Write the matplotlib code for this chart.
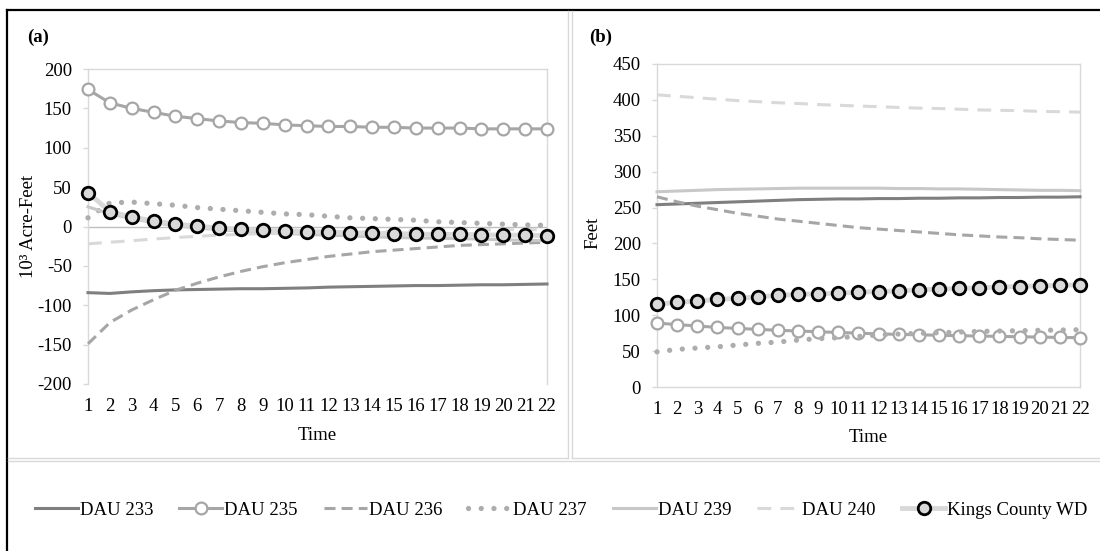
import matplotlib
matplotlib.use("Agg")
import matplotlib.pyplot as plt
from matplotlib.lines import Line2D

plt.rcParams['font.family'] = ['Liberation Serif', 'DejaVu Serif']
plt.rcParams['axes.unicode_minus'] = False

time = list(range(1, 23))
xticklabels = [str(t) for t in time]

# Panel (a): 10^3 Acre-Feet
a_dau233 = [-84, -85, -83, -81.5, -80.5, -80, -79.5, -79, -79, -78.5, -78, -77, -76.5, -76, -75.5, -75, -75, -74.5, -74, -74, -73.5, -73]
a_dau235 = [174, 157, 150, 145, 140, 137, 134, 132, 131, 129, 128, 127, 127, 126, 126, 125, 125, 125, 124, 124, 124, 124]
a_dau236 = [-149, -122, -106, -93, -81, -72, -64, -57, -51, -46, -42, -38, -35, -32, -30, -28, -26, -24, -23, -22, -21, -20]
a_dau237 = [11, 30, 31, 29, 27, 24, 22, 20, 18, 16, 15, 13, 11, 10, 9, 8, 6, 5, 4, 3, 2, 1.5]
a_dau239 = [25, 16, 10, 5, 1, -2, -4, -6, -7.5, -9, -10, -11, -12, -13, -14, -14.5, -15, -15.5, -16, -17, -17.5, -18]
a_dau240 = [-22, -20, -18, -16, -14, -12.5, -11, -10, -9, -8.5, -8, -7.5, -7, -6.5, -6, -5.5, -5, -5, -4.5, -4, -4, -4]
a_kcwd = [43, 19, 12, 7, 3, 0.5, -2, -3.5, -5, -5.5, -6.5, -7, -8, -8.5, -9, -9.5, -10, -10, -10.5, -11, -11, -11.5]

# Panel (b): Feet
b_dau233 = [254, 255, 256, 257, 258, 259, 260, 261, 261.5, 262, 262, 262.5, 262.5, 263, 263, 263.5, 263.5, 264, 264, 264.5, 264.5, 265]
b_dau235 = [89, 87, 85, 83, 81.6, 80.3, 79, 78, 77, 76, 75, 74, 73.3, 72.8, 72, 71.5, 71, 70.5, 70, 69.6, 69, 68.7]
b_dau236 = [265, 258, 252, 247, 242, 238, 234, 231, 228, 225, 222, 220, 218, 216, 214, 212, 210.5, 209, 208, 206.5, 205.5, 204.5]
b_dau237 = [49, 52.4, 54.3, 56, 58.5, 60.8, 62.6, 65.4, 67.3, 68.7, 70.5, 72.4, 73.8, 74.7, 75.6, 76.5, 77.5, 78, 78.4, 79, 79.3, 79.8]
b_dau239 = [272, 273, 274, 275, 275.5, 276, 276.5, 277, 277, 277, 277, 277, 276.5, 276.5, 276, 276, 275.5, 275, 274.5, 274, 274, 273.5]
b_dau240 = [407, 405, 403, 401, 399, 397.5, 396, 395, 393.5, 392.5, 391.5, 390.5, 389.5, 388.5, 388, 387, 386, 385.5, 385, 384, 383.5, 383]
b_kcwd = [115.5, 117.8, 120, 122, 123.4, 125.7, 127.6, 129, 130, 130.8, 132.2, 133, 134, 135.5, 136.4, 137.3, 138.2, 139.2, 140, 141, 141.5, 142.4]

labels = ["DAU 233", "DAU 235", "DAU 236", "DAU 237", "DAU 239", "DAU 240", "Kings County WD"]

styles = [
    dict(color='#7f7f7f', lw=2.2, ls='-'),
    dict(color='#a6a6a6', lw=2.2, ls='-', marker='o', ms=8.5, mfc='white', mec='#a6a6a6', mew=1.6),
    dict(color='#a6a6a6', lw=2.2, dashes=(3.6, 2.0)),
    dict(color='#adadad', lw=3.8, dashes=(0.01, 2.4), dash_capstyle='round'),
    dict(color='#c8c8c8', lw=2.2, ls='-'),
    dict(color='#d9d9d9', lw=2.2, dashes=(4.5, 3.0)),
    dict(color='#d9d9d9', lw=3.5, ls='-', marker='o', ms=9, mfc='#d9d9d9', mec='black', mew=2.0),
]

W, H = 1100, 551
fig = plt.figure(figsize=(11, 5.51), dpi=100)

def fx(px):
    return px / W

def fy(py):
    return 1 - py / H

ax_a = fig.add_axes([fx(88), fy(384), fx(547) - fx(88), fy(69) - fy(384)])
ax_b = fig.add_axes([fx(657), fy(387), fx(1080) - fx(657), fy(64) - fy(387)])

series_a = [a_dau233, a_dau235, a_dau236, a_dau237, a_dau239, a_dau240, a_kcwd]
series_b = [b_dau233, b_dau235, b_dau236, b_dau237, b_dau239, b_dau240, b_kcwd]

handles = []
for s, st, lab in zip(series_a, styles, labels):
    h, = ax_a.plot(time, s, label=lab, zorder=3, clip_on=False, **st)
    handles.append(h)
for s, st, lab in zip(series_b, styles, labels):
    ax_b.plot(time, s, label=lab, zorder=3, clip_on=False, **st)

ax_a.axhline(0, color='#bfbfbf', lw=1.0, zorder=2)

grid_c = '#d9d9d9'
for ax in (ax_a, ax_b):
    ax.set_xlim(1, 22)
    ax.set_xticks(time)
    ax.set_xticklabels(xticklabels)
    for sp in ('left', 'top', 'right', 'bottom'):
        ax.spines[sp].set_color(grid_c)
        ax.spines[sp].set_linewidth(1.0)
    ax.tick_params(axis='y', direction='out', length=3.6, width=1, color=grid_c,
                   labelsize=13.5, pad=8, labelcolor='black')
    ax.tick_params(axis='x', length=0, labelsize=13.5, pad=10, labelcolor='black')
    ax.set_facecolor('white')

ax_a.spines['bottom'].set_visible(False)
ax_a.set_ylim(-200, 200)
ax_a.set_yticks(range(-200, 201, 50))
ax_b.set_ylim(0, 450)
ax_b.set_yticks(range(0, 451, 50))

ax_a.set_ylabel("10³ Acre-Feet", fontsize=13.5)
ax_a.yaxis.set_label_coords(-0.111, 0.5)
ax_b.set_ylabel("Feet", fontsize=13.5)
ax_b.yaxis.set_label_coords(-0.132, 0.477)
ax_a.set_xlabel("Time", fontsize=13.5)
ax_a.xaxis.set_label_coords(0.5, -0.136)
ax_b.set_xlabel("Time", fontsize=13.5)
ax_b.xaxis.set_label_coords(0.5, -0.13)

fig.text(fx(27), fy(37), "(a)", fontsize=13.5, fontweight='bold', va='center', ha='left')
fig.text(fx(589), fy(37), "(b)", fontsize=13.5, fontweight='bold', va='center', ha='left')

# Frame and dividers
fig.add_artist(Line2D([fx(7), 1.0], [fy(10), fy(10)], color='black', lw=1.6))
fig.add_artist(Line2D([fx(7), fx(7)], [fy(10), 0.0], color='black', lw=1.6))
fig.add_artist(Line2D([fx(568), fx(568)], [fy(11), fy(458)], color=grid_c, lw=1.0))
fig.add_artist(Line2D([fx(572), fx(572)], [fy(11), fy(458)], color=grid_c, lw=1.0))
fig.add_artist(Line2D([fx(8), fx(568)], [fy(458), fy(458)], color=grid_c, lw=1.0))
fig.add_artist(Line2D([fx(572), 1.0], [fy(458), fy(458)], color=grid_c, lw=1.0))
fig.add_artist(Line2D([fx(8), 1.0], [fy(461), fy(461)], color=grid_c, lw=1.0))

fig.legend(handles, labels, loc='center', bbox_to_anchor=(fx(561), fy(510)), ncol=7,
           frameon=False, fontsize=13.5, handlelength=2.3, handletextpad=0.1,
           columnspacing=1.39, numpoints=1)

fig.savefig("out.png", dpi=100, facecolor='white')
